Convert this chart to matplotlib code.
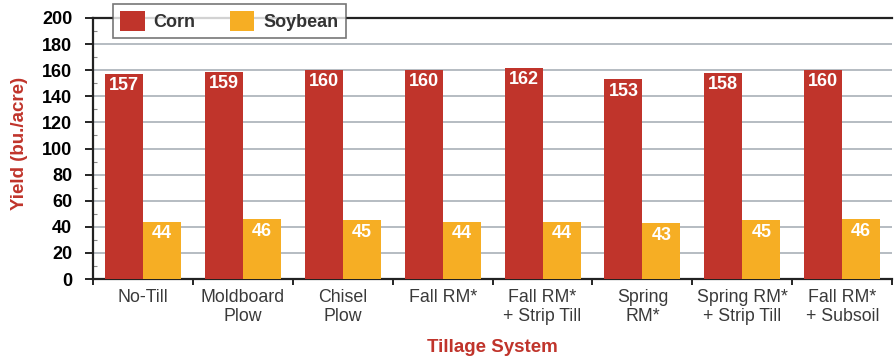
# Tillage system yields - corn vs soybean
import numpy as np
from matplotlib import pyplot as plt

plt.rcParams['font.family'] = ['Liberation Sans', 'DejaVu Sans']

systems = ['No-Till', 'Moldboard\nPlow', 'Chisel\nPlow', 'Fall RM*',
           'Fall RM*\n+ Strip Till', 'Spring\nRM*', 'Spring RM*\n+ Strip Till',
           'Fall RM*\n+ Subsoil']
corn = [157, 159, 160, 160, 162, 153, 158, 160]
soybean = [44, 46, 45, 44, 44, 43, 45, 46]

corn_color = '#c0342b'
soy_color = '#f6ae24'
red_text = '#c0342b'

fig = plt.figure(figsize=(8.94, 3.6), dpi=100)
ax = fig.add_axes([0.104, 0.225, 0.894, 0.725])

idx = np.arange(len(systems))
w = 0.38
ax.bar(idx - w / 2, corn, w, color=corn_color, zorder=3)
ax.bar(idx + w / 2, soybean, w, color=soy_color, zorder=3)

for i, v in enumerate(corn):
    ax.text(i - w / 2, v - 2.5, str(v), color='white', fontweight='bold',
            ha='center', va='top', fontsize=13, zorder=4)
for i, v in enumerate(soybean):
    ax.text(i + w / 2, v - 3, str(v), color='white', fontweight='bold',
            ha='center', va='top', fontsize=13, zorder=4)

ax.set_xlim(-0.5, len(systems) - 0.5)
ax.set_ylim(0, 200)
ax.set_yticks(np.arange(0, 201, 20))
ax.set_yticks(np.arange(0, 201, 10), minor=True)
ax.set_yticklabels([str(t) for t in range(0, 201, 20)], fontweight='bold', fontsize=13)
ax.tick_params(axis='y', which='major', length=6, width=1.2, pad=9)
ax.tick_params(axis='y', which='minor', direction='in', length=3, width=0.8, color='#888888')

# category labels centred, ticks at boundaries
ax.set_xticks(idx)
ax.set_xticklabels(systems, fontsize=12.8, color='#3a3a3a', linespacing=1.15)
ax.tick_params(axis='x', which='major', length=0, pad=7)
ax.set_xticks(np.arange(-0.5, len(systems), 1), minor=True)
ax.tick_params(axis='x', which='minor', length=4, width=1.2)

ax.grid(axis='y', color='#a9b0b8', linewidth=1.2, zorder=0)
for s in ['left', 'bottom', 'top']:
    ax.spines[s].set_linewidth(1.6)
    ax.spines[s].set_color('#222222')
ax.spines['right'].set_visible(False)

ax.set_ylabel('Yield (bu./acre)', color=red_text, fontweight='bold', fontsize=13.5)
ax.yaxis.set_label_coords(-0.081, 0.52)
ax.set_xlabel('Tillage System', color=red_text, fontweight='bold', fontsize=13.5, labelpad=10)

leg = ax.legend(['Corn', 'Soybean'], loc='upper left', bbox_to_anchor=(0.025, 1.055),
                ncol=2, frameon=True, fancybox=False, edgecolor='#555555',
                prop={'weight': 'bold', 'size': 13}, handlelength=1.35, handleheight=1.35,
                handletextpad=0.5, columnspacing=1.9, borderpad=0.4, borderaxespad=0)
leg.get_frame().set_linewidth(1.2)
for t in leg.get_texts():
    t.set_color('#333333')
leg.set_zorder(5)

plt.savefig('out.png', dpi=100)
